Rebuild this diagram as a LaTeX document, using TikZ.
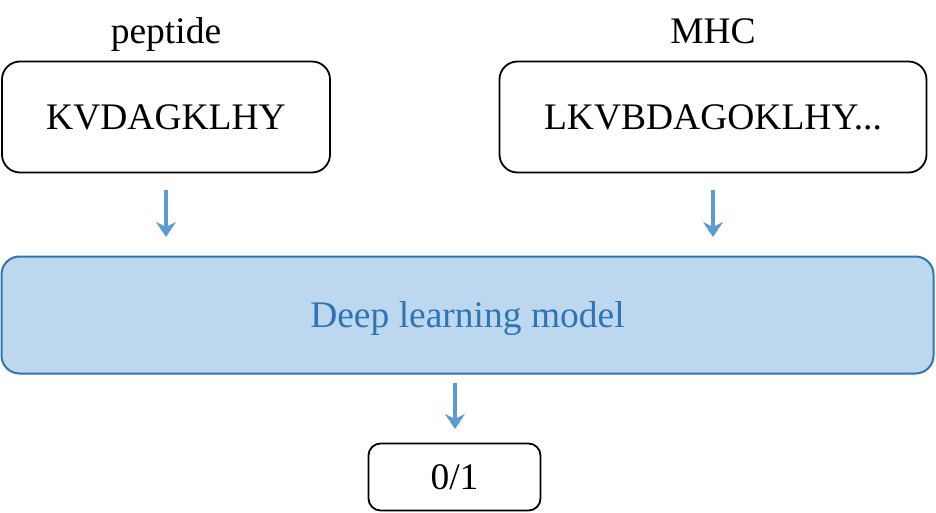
\documentclass[tikz,border=0pt]{standalone}
\usepackage{fontspec}
\setmainfont{Liberation Serif}
\usetikzlibrary{arrows.meta}
\definecolor{boxblue}{HTML}{BDD7EE}
\definecolor{edgeblue}{HTML}{2E75B6}
\definecolor{arrblue}{HTML}{5B9BD5}
\tikzset{
  capcenter/.style={text height=24.8pt, text depth=0pt},
  seqbox/.style={draw=black, line width=1.8pt, rounded corners=18pt, inner sep=0pt, font=\fontsize{37.5}{42}\selectfont, capcenter},
  modelbox/.style={draw=edgeblue, fill=boxblue, line width=2pt, rounded corners=18pt, inner sep=0pt, text=edgeblue, font=\fontsize{37.5}{42}\selectfont, capcenter},
  outbox/.style={draw=black, line width=1.8pt, rounded corners=12pt, inner sep=0pt, font=\fontsize{37.5}{42}\selectfont, capcenter},
  lbl/.style={inner sep=0pt, anchor=base, font=\fontsize{37.5}{42}\selectfont},
  flow/.style={draw=arrblue, line width=3.6pt, -{Stealth[length=15pt,width=20pt,inset=5pt]}}
}
\begin{document}
\begin{tikzpicture}[x=1pt,y=-1pt]
\useasboundingbox (0,0) rectangle (936,513);
\node[seqbox, minimum width=328pt, minimum height=111pt] (pep) at (166,117) {KVDAGKLHY};
\node[seqbox, minimum width=427pt, minimum height=111pt] (mhc) at (713,117) {LKVBDAGOKLHY...};
\node[lbl] (peplbl) at (166,44) {peptide};
\node[lbl] (mhclbl) at (713,44) {MHC};
\node[modelbox, minimum width=932pt, minimum height=117pt] (model) at (467.5,315) {Deep learning model};
\node[outbox, minimum width=172pt, minimum height=67pt] (out) at (454.5,477) {0/1};
\coordinate (a1s) at (166,190);
\coordinate (a1e) at (166,237);
\coordinate (a2s) at (713,190);
\coordinate (a2e) at (713,237);
\coordinate (a3s) at (455,383);
\coordinate (a3e) at (455,429);
\draw[flow] (a1s) -- (a1e);
\draw[flow] (a2s) -- (a2e);
\draw[flow] (a3s) -- (a3e);
\end{tikzpicture}
\end{document}
